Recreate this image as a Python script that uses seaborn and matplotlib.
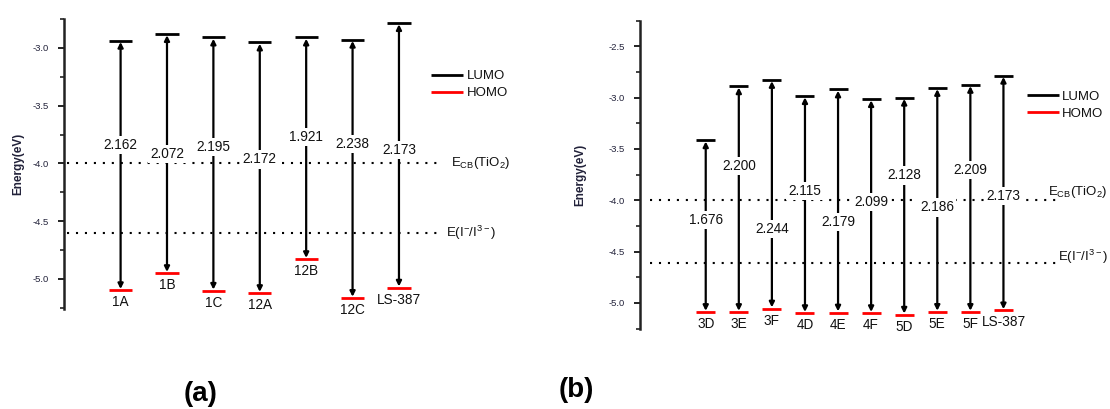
import matplotlib
matplotlib.use('Agg')
import matplotlib.pyplot as plt
import seaborn as sns
import numpy as np

# panel (a) data
cats_a = ['1A', '1B', '1C', '12A', '12B', '12C', 'LS-387']
lumo_a = [-2.937, -2.879, -2.909, -2.952, -2.909, -2.928, -2.784]
homo_a = [-5.099, -4.951, -5.104, -5.124, -4.830, -5.166, -5.077]
gap_a = [2.162, 2.072, 2.195, 2.172, 1.921, 2.238, 2.173]
gap_y_a = [-3.842, -3.922, -3.857, -3.966, -3.770, -3.828, -3.885]

# panel (b) data
cats_b = ['3D', '3E', '3F', '4D', '4E', '4F', '5D', '5E', '5F', 'LS-387']
lumo_b = [-3.415, -2.889, -2.827, -2.985, -2.920, -3.014, -3.000, -2.905, -2.875, -2.786]
homo_b = [-5.089, -5.089, -5.055, -5.100, -5.094, -5.100, -5.115, -5.088, -5.088, -5.073]
gap_b = [1.676, 2.200, 2.244, 2.115, 2.179, 2.099, 2.128, 2.186, 2.209, 2.173]
gap_y_b = [-4.194, -3.662, -4.277, -3.912, -4.208, -4.013, -3.758, -4.070, -3.707, -3.960]

e_cb = -4.0
e_redox = [-4.60, -4.61]

sns.set_theme(style='ticks')
plt.rcParams['font.family'] = ['Liberation Sans', 'DejaVu Sans']
plt.rcParams['mathtext.default'] = 'regular'
plt.rcParams['text.color'] = '#111111'

fig = plt.figure(figsize=(11.1, 4.09), dpi=100)
W, H = 1110, 409


def make_ax(left_px, right_px, top_px, bottom_px):
    return fig.add_axes([left_px / W, (H - bottom_px) / H,
                         (right_px - left_px) / W, (bottom_px - top_px) / H])


def draw_panel(ax, cats, lumo, homo, gaps, gap_y, half, xlim, ylim, yticks,
               line_x, redox, cb_lab, redox_lab, leg_xy, ylab_x):
    x = np.arange(len(cats))
    ax.set_xlim(*xlim)
    ax.set_ylim(*ylim)

    # energy levels
    ax.hlines(lumo, x - half, x + half, color='black', lw=2.0, label='LUMO', zorder=3)
    ax.hlines(homo, x - half, x + half, color='red', lw=2.0, label='HOMO', zorder=3)

    # reference levels
    ax.plot(line_x, [e_cb, e_cb], color='black', lw=1.5, ls=(0, (1, 3.3)))
    ax.plot(line_x, [redox, redox], color='black', lw=1.5, ls=(0, (1, 3.3)))
    ax.text(cb_lab[0], cb_lab[1], r'E$_{CB}$(TiO$_{2}$)', fontsize=9.5,
            ha='left', va='center', color='#111')
    ax.text(redox_lab[0], redox_lab[1], r'E(I$^{-}$/I$^{3-}$)', fontsize=9.5,
            ha='left', va='center', color='#111')

    for xi, lu, ho, g, gy, c in zip(x, lumo, homo, gaps, gap_y, cats):
        ax.annotate('', xy=(xi, lu - 0.012), xytext=(xi, ho + 0.012),
                    arrowprops=dict(arrowstyle='<|-|>', lw=1.6, color='black',
                                    mutation_scale=7.5, shrinkA=0, shrinkB=0),
                    zorder=2)
        ax.text(xi, gy, f'{g:.3f}', fontsize=9.8, ha='center', va='center',
                color='#111', zorder=4,
                bbox=dict(facecolor='white', edgecolor='none', pad=1.5))
        ax.annotate(c, xy=(xi, ho), xytext=(0, -8.6), textcoords='offset points',
                    ha='center', va='center', fontsize=9.8, color='#111')

    leg = ax.legend(loc='center left', bbox_to_anchor=leg_xy, bbox_transform=ax.transData,
                    frameon=False, fontsize=9.5, handlelength=2.4, handletextpad=0.25,
                    labelspacing=0.35, borderpad=0, borderaxespad=0)
    for t in leg.get_texts():
        t.set_color('#111')

    sns.despine(ax=ax, top=True, right=True, bottom=True)
    ax.spines['left'].set_linewidth(1.8)
    ax.spines['left'].set_color('#222')
    ax.set_xticks([])
    ax.set_yticks(yticks)
    ax.set_yticks(np.arange(yticks[0] - 0.25, yticks[-1] + 0.3, 0.25), minor=True)
    ax.set_yticklabels([f'{t:.1f}' for t in yticks])
    ax.tick_params(axis='y', which='major', length=4, width=1.4, pad=7,
                   labelsize=6.8, labelcolor='#22223a', color='#222')
    ax.tick_params(axis='y', which='minor', length=3, width=1.2, color='#222')
    ax.text(ylab_x, 0.5, 'Energy(eV)', rotation=90, transform=ax.transAxes,
            ha='center', va='center', fontsize=8.5, color='#22223a', fontweight='bold')
    ax.set_facecolor('none')


ax_a = make_ax(64, 540, 19, 309)
draw_panel(ax_a, cats_a, lumo_a, homo_a, gap_a, gap_y_a, half=0.25,
           xlim=(-1.22, 9.04), ylim=(-5.26, -2.76),
           yticks=[-5.0, -4.5, -4.0, -3.5, -3.0],
           line_x=[-1.157, 6.88], redox=e_redox[0],
           cb_lab=(7.12, -4.0), redox_lab=(7.01, -4.6),
           leg_xy=(6.70, -3.319), ylab_x=(18 - 64) / 476)

ax_b = make_ax(640, 1105, 20.7, 328.6)
draw_panel(ax_b, cats_b, lumo_b, homo_b, gap_b, gap_y_b, half=0.287,
           xlim=(-1.987, 12.07), ylim=(-5.244, -2.5),
           yticks=[-5.0, -4.5, -4.0, -3.5, -3.0, -2.5],
           line_x=[-1.68, 10.71], redox=e_redox[1],
           cb_lab=(10.35, -3.921), redox_lab=(10.65, -4.551),
           leg_xy=(9.71, -3.075), ylab_x=(580 - 640) / 465)

fig.text(201 / W, 1 - 394 / H, '(a)', fontsize=20, fontweight='bold', color='black',
         ha='center', va='center', family=['Liberation Sans Narrow', 'Liberation Sans'])
fig.text(576 / W, 1 - 390 / H, '(b)', fontsize=20, fontweight='bold', color='black',
         ha='center', va='center', family=['Liberation Sans Narrow', 'Liberation Sans'])

fig.savefig('out.png', dpi=100, facecolor='white')
